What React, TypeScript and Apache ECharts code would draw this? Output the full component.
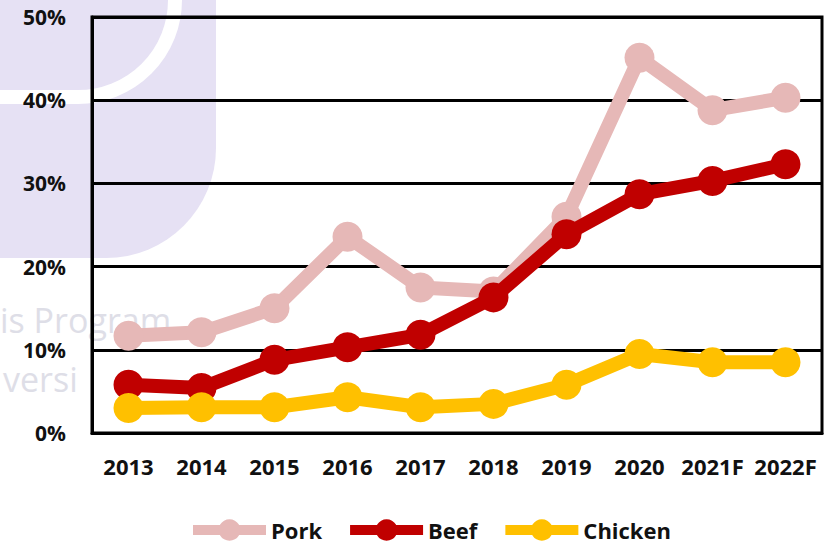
import React, { useEffect, useRef } from "react";
import * as echarts from "echarts";

const categories = ["2013", "2014", "2015", "2016", "2017", "2018", "2019", "2020", "2021F", "2022F"];
const pork = [11.7, 12.1, 15.0, 23.6, 17.5, 17.0, 26.0, 45.1, 38.8, 40.3];
const beef = [5.8, 5.4, 8.8, 10.3, 11.8, 16.3, 23.9, 28.7, 30.3, 32.3];
const chicken = [3.0, 3.1, 3.1, 4.3, 3.1, 3.5, 5.8, 9.5, 8.5, 8.5];
const seriesNames = ["Pork", "Beef", "Chicken"];
const seriesColors = ["#e6b8b7", "#c00000", "#ffc000"];

const FONT = "'Open Sans', 'DejaVu Sans', sans-serif";

export default function App() {
  const ref = useRef<HTMLDivElement>(null);
  useEffect(() => {
    if (!ref.current) return;
    const chart = echarts.init(ref.current, undefined, { renderer: "svg" });
    const data = [pork, beef, chicken];
    chart.setOption({
      animation: false,
      backgroundColor: "#ffffff",
      graphic: [
        {
          type: "rect",
          z: -10,
          silent: true,
          shape: { x: 0, y: -20, width: 216, height: 278, r: [0, 0, 110, 0] },
          style: { fill: "#e6e1f4" },
        },
        {
          type: "arc",
          z: -9,
          silent: true,
          shape: { cx: 78, cy: 0, r: 97, startAngle: 0, endAngle: Math.PI / 2 },
          style: { stroke: "#ffffff", lineWidth: 14, fill: "none" },
        },
        {
          type: "line",
          z: -9,
          silent: true,
          shape: { x1: 0, y1: 97, x2: 78, y2: 97 },
          style: { stroke: "#ffffff", lineWidth: 14 },
        },
        {
          type: "text",
          z: -8,
          silent: true,
          x: 0,
          y: 303,
          style: { text: "is Program", font: `34px ${FONT}`, fill: "#dedee7" },
        },
        {
          type: "text",
          z: -8,
          silent: true,
          x: 3,
          y: 362,
          style: { text: "versi", font: `34px ${FONT}`, fill: "#dedee7" },
        },
      ],
      grid: {
        left: 92,
        right: 14,
        top: 17,
        bottom: 111,
        show: true,
        borderColor: "#000",
        borderWidth: 3,
        backgroundColor: "transparent",
        containLabel: false,
      },
      legend: {
        bottom: -2,
        left: 183,
        itemWidth: 73,
        itemHeight: 27,
        itemGap: 23,
        lineStyle: { width: 10 },
        textStyle: { fontFamily: FONT, fontWeight: "bold", fontSize: 22, color: "#111" },
        data: seriesNames,
      },
      xAxis: {
        type: "category",
        data: categories,
        boundaryGap: true,
        axisLine: { show: true, lineStyle: { color: "#000", width: 3 } },
        axisTick: { show: false },
        axisLabel: { fontFamily: FONT, fontWeight: "bold", fontSize: 22, color: "#111", margin: 22, interval: 0 },
        splitLine: { show: false },
      },
      yAxis: {
        type: "value",
        min: 0,
        max: 50,
        interval: 10,
        axisLine: { show: true, lineStyle: { color: "#000", width: 3 } },
        axisTick: { show: false },
        axisLabel: {
          fontFamily: FONT,
          fontWeight: "bold",
          fontSize: 21,
          color: "#111",
          margin: 26,
          formatter: (v: number) => `${v}%`,
        },
        splitLine: { show: true, lineStyle: { color: "#000", width: 3 } },
      },
      series: seriesNames.map((name, i) => ({
        name,
        type: "line",
        data: data[i],
        symbol: "circle",
        symbolSize: 30,
        color: seriesColors[i],
        lineStyle: { width: 14, color: seriesColors[i] },
        itemStyle: { color: seriesColors[i] },
        z: 2 + i,
      })),
    });
    return () => chart.dispose();
  }, []);
  return (
    <div
      ref={ref}
      style={{ position: "fixed", left: 0, top: 0, width: 836, height: 544 }}
    />
  );
}
